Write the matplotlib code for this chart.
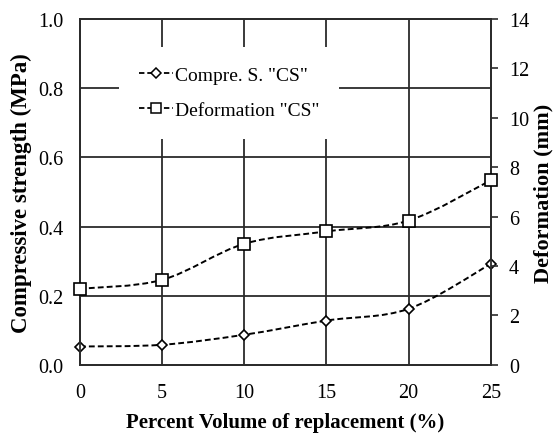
import numpy as np
import matplotlib
matplotlib.use("Agg")
import matplotlib.pyplot as plt
from matplotlib.path import Path
from matplotlib.patches import PathPatch
from matplotlib.lines import Line2D

plt.rcParams['font.family'] = ['Liberation Serif', 'DejaVu Serif']

# data
replacement = [0, 5, 10, 15, 20, 25]
compre_cs = [0.053, 0.058, 0.087, 0.128, 0.162, 0.292]     # MPa, left axis
deform_cs = [3.08, 3.44, 4.90, 5.40, 5.84, 7.47]          # mm, right axis

x_ticks = [0, 5, 10, 15, 20, 25]
left_ticks = [0.0, 0.2, 0.4, 0.6, 0.8, 1.0]
right_ticks = [0, 2, 4, 6, 8, 10, 12, 14]

ink = '#2b2b2b'


def smooth_path(xs, ys):
    # catmull-rom through the points, as cubic bezier segments
    xs = np.asarray(xs, float)
    ys = np.asarray(ys, float)
    pts = np.column_stack([xs, ys])
    verts = [pts[0]]
    codes = [Path.MOVETO]
    n = len(pts)
    for i in range(n - 1):
        p0 = pts[i - 1] if i > 0 else pts[i]
        p1 = pts[i]
        p2 = pts[i + 1]
        p3 = pts[i + 2] if i + 2 < n else pts[i + 1]
        c1 = p1 + (p2 - p0) / 6.0
        c2 = p2 - (p3 - p1) / 6.0
        verts += [c1, c2, p2]
        codes += [Path.CURVE4] * 3
    return Path(verts, codes)


fig = plt.figure(figsize=(5.59, 4.35), dpi=100)
ax = fig.add_axes([0.143, 0.159, 0.735, 0.795])
ax2 = ax.twinx()

ax.set_xlim(0, 25)
ax.set_ylim(0, 1.0)
ax2.set_ylim(0, 14)

# grid
for v in x_ticks[1:-1]:
    ax.axvline(v, color=ink, lw=1.3, zorder=1)
for v in left_ticks[1:-1]:
    ax.axhline(v, color=ink, lw=1.3, zorder=1)

dash = (0, (3, 1.6))

# compressive strength (left axis)
ax.add_patch(PathPatch(smooth_path(replacement, compre_cs), fill=False,
                       edgecolor='black', lw=1.4, linestyle=dash, zorder=3))
ax.plot(replacement, compre_cs, linestyle='none', marker='D', ms=5.5,
        mfc='white', mec='black', mew=1.2, zorder=4, clip_on=False)

# deformation (right axis)
ax2.add_patch(PathPatch(smooth_path(replacement, deform_cs), fill=False,
                        edgecolor='black', lw=1.4, linestyle=dash, zorder=3))
ax2.plot(replacement, deform_cs, linestyle='none', marker='s', ms=8,
         mfc='white', mec='black', mew=1.2, zorder=4, clip_on=False)

for a in (ax, ax2):
    for s in a.spines.values():
        s.set_color(ink)
        s.set_linewidth(1.3)

fs = 14.5
ax.set_xticks(x_ticks)
ax.set_yticks(left_ticks)
ax.set_yticklabels(['%.1f' % t for t in left_ticks])
ax2.set_yticks(right_ticks)
ax.tick_params(axis='x', length=0, pad=13, labelsize=fs)
ax.tick_params(axis='y', length=0, pad=12, labelsize=fs)
ax2.tick_params(axis='y', direction='out', length=5, width=1.2, color=ink,
                pad=8, labelsize=fs)

ax.set_xlabel('Percent Volume of replacement (%)', fontsize=15,
              fontweight='bold', labelpad=7)
ax.set_ylabel('Compressive strength (MPa)', fontsize=16.5,
              fontweight='bold', labelpad=4)
ax2.set_ylabel('Deformation (mm)', fontsize=16, fontweight='bold', labelpad=3)

handles = [
    Line2D([], [], color='black', lw=1.3, linestyle=dash, marker='D',
           ms=5, mfc='white', mec='black', mew=1.1),
    Line2D([], [], color='black', lw=1.3, linestyle=dash, marker='s',
           ms=7.5, mfc='white', mec='black', mew=1.1),
]
leg = ax2.legend(handles, ['Compre. S. "CS"', 'Deformation "CS"'],
                 loc='upper left', bbox_to_anchor=(0.096, 0.919),
                 frameon=True, fancybox=False, framealpha=1, edgecolor='white',
                 fontsize=14, handlelength=1.75, handletextpad=0.1,
                 labelspacing=0.9, borderpad=1.0, borderaxespad=0)
leg.get_frame().set_linewidth(0)
leg.set_zorder(10)

fig.savefig('out.png', dpi=100, facecolor='white')
